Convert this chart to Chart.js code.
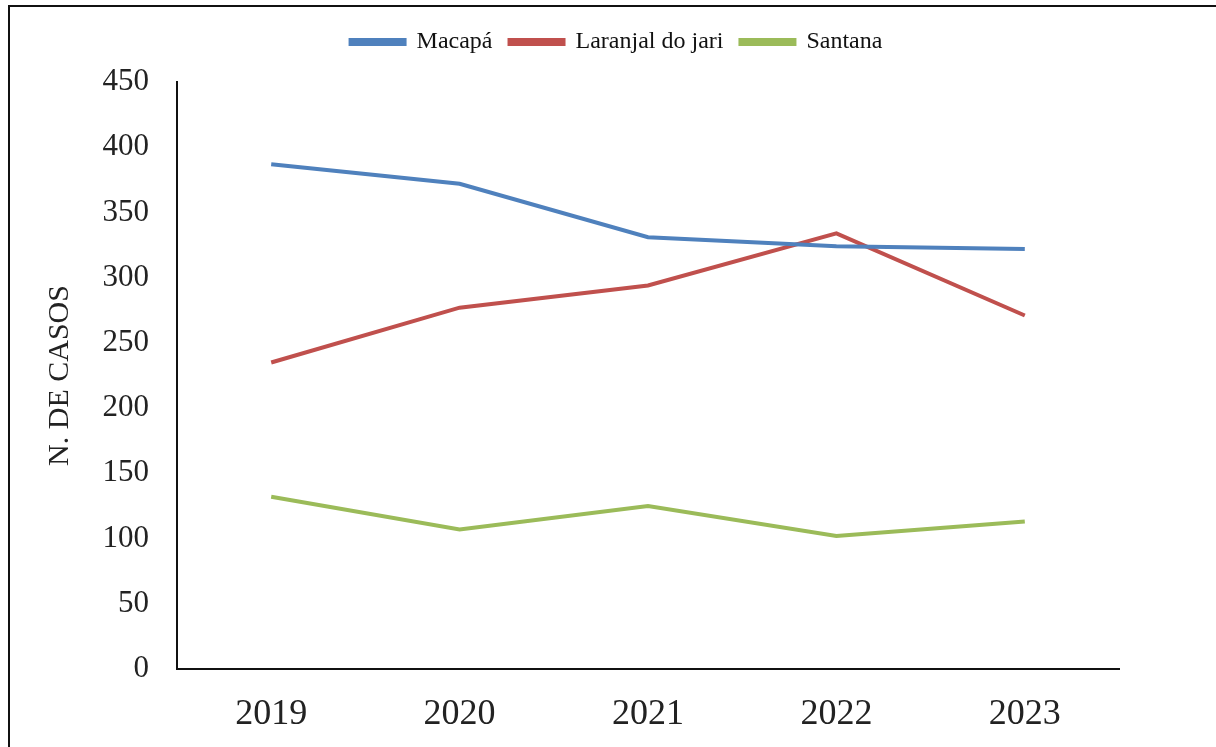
<!DOCTYPE html>
<html>
<head>
<meta charset="utf-8">
<script src="https://cdn.jsdelivr.net/npm/chart.js@4"></script>
<style>
    body { margin: 0; background: #fff; }
    #frame {
        position: absolute; left: 8px; top: 5px; width: 1300px; height: 800px;
        border-left: 2px solid #111; border-top: 2px solid #111;
    }
    #wrap { position: absolute; left: 0; top: 0; width: 1216px; height: 747px; }
</style>
</head>
<body>
<div id="frame"></div>
<div id="wrap"><canvas id="casosChart"></canvas></div>
<script>
const years = ["2019", "2020", "2021", "2022", "2023"];
const macapa = [387, 372, 331, 324, 322];
const laranjal = [235, 277, 294, 334, 271];
const santana = [132, 107, 125, 102, 113];
const yTicks = [0, 50, 100, 150, 200, 250, 300, 350, 400, 450];

const serif = "'Liberation Serif', 'Times New Roman', serif";

function serie(label, data, color) {
    return {
        label: label,
        data: data,
        borderColor: color,
        backgroundColor: color,
        borderWidth: 4,
        pointRadius: 0,
        tension: 0,
        fill: false
    };
}

// extra room under the legend, and centre it on the whole page
const legendSpace = {
    id: "legendSpace",
    beforeInit(chart) {
        const fit = chart.legend.fit;
        chart.legend.fit = function () {
            fit.bind(chart.legend)();
            this.height += 18;
        };
    },
    afterLayout(chart) {
        chart.legend.left = 17;
        chart.legend.right = 1216;
        chart.legend.width = 1216 - 17;
    }
};

document.addEventListener("DOMContentLoaded", function () {
    const ctx = document.getElementById("casosChart").getContext("2d");
    new Chart(ctx, {
        type: "line",
        data: {
            labels: years,
            datasets: [
                serie("Macapá", macapa, "#4F81BD"),
                serie("Laranjal do jari", laranjal, "#C0504D"),
                serie("Santana", santana, "#9BBB59")
            ]
        },
        plugins: [legendSpace],
        options: {
            responsive: true,
            maintainAspectRatio: false,
            animation: false,
            layout: { padding: { left: 17, top: 13, right: 97, bottom: 0 } },
            plugins: {
                tooltip: { enabled: false },
                legend: {
                    position: "top",
                    labels: {
                        boxWidth: 54,
                        boxHeight: 4,
                        padding: 17,
                        color: "#111",
                        font: { family: serif, size: 24 }
                    }
                }
            },
            scales: {
                x: {
                    offset: true,
                    grid: { display: false, drawTicks: false },
                    border: { display: true, color: "#111", width: 2 },
                    ticks: {
                        color: "#222",
                        padding: 24,
                        maxRotation: 0,
                        font: { family: serif, size: 36 }
                    },
                    afterFit: function (scale) { scale.height = 78; }
                },
                y: {
                    min: 0,
                    max: 450,
                    afterBuildTicks: function (scale) {
                        scale.ticks = yTicks.map(v => ({ value: v }));
                    },
                    grid: { display: false, drawTicks: false },
                    border: { display: true, color: "#111", width: 2 },
                    ticks: {
                        color: "#222",
                        padding: 28,
                        font: { family: serif, size: 31 }
                    },
                    title: {
                        display: true,
                        text: "N. DE CASOS",
                        color: "#222",
                        padding: { top: 25, bottom: 0 },
                        font: { family: serif, size: 30 }
                    },
                    afterFit: function (scale) { scale.width = 160; }
                }
            }
        }
    });
});
</script>
</body>
</html>
